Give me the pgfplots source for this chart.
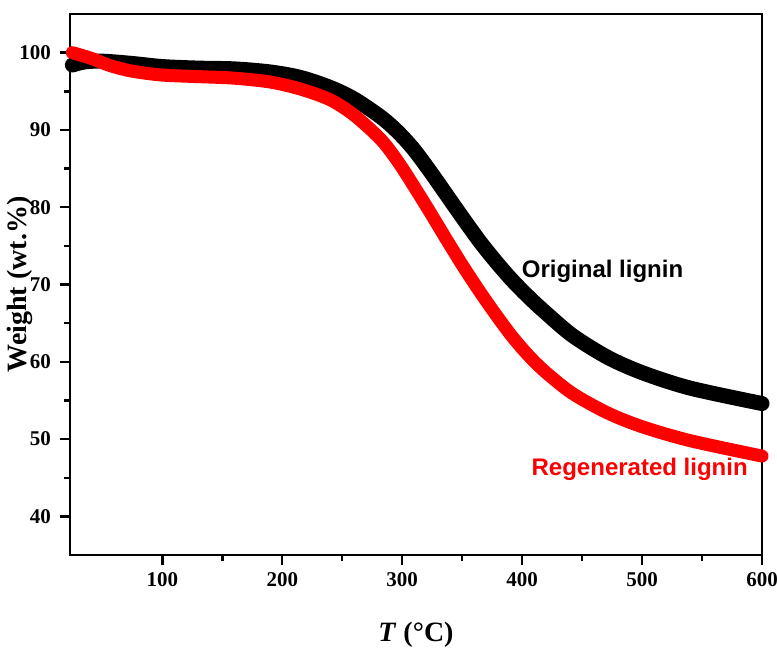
\documentclass[border=0pt]{standalone}
\usepackage{fontspec}
\setmainfont{Liberation Serif}
\newfontfamily\arialfont{Liberation Sans}
\usepackage{pgfplots}
\pgfplotsset{compat=1.18}

\begin{document}
\begin{tikzpicture}
\begin{axis}[
    scale only axis,
    width=346pt, height=270.5pt,
    xmin=23, xmax=600,
    ymin=35, ymax=105,
    xtick={100,200,300,400,500,600},
    ytick={40,50,60,70,80,90,100},
    minor x tick num=1,
    minor y tick num=1,
    axis line style={line width=1.2pt},
    tick style={line width=1.2pt, black},
    tick align=outside,
    tick pos=left,
    major tick length=5pt,
    minor tick length=3pt,
    /pgf/number format/assume math mode=true,
    ticklabel style={font=\fontsize{10.5}{12}\selectfont\bfseries},
    yticklabel style={xshift=-1pt},
    xlabel={\textbf{\textit{T} (°C)}},
    ylabel={\textbf{Weight (wt.\%)}},
    label style={font=\fontsize{14}{16}\selectfont},
    xlabel style={at={(axis description cs:0.5,0)}, anchor=center, yshift=-40pt},
    ylabel style={at={(axis description cs:0,0.5)}, anchor=center, yshift=25pt},
    clip=false,
]
% Original lignin
\addplot[black, line width=7.5pt, smooth, line cap=round] coordinates {
    (25,98.4) (35,98.8) (50,98.9) (75,98.6) (100,98.2) (130,98.0) (160,97.9)
    (190,97.5) (215,96.8) (240,95.5) (260,94.0) (282,91.7) (296,89.8)
    (309,87.6) (323,84.7) (337,81.6) (351,78.5) (365,75.5) (379,72.8)
    (392,70.5) (406,68.3) (420,66.3) (442,63.4) (471,60.6) (500,58.6)
    (540,56.6) (600,54.6)
};
% Regenerated lignin
\addplot[red, line width=6.5pt, smooth, line cap=round] coordinates {
    (25,100) (40,99.3) (57,98.3) (75,97.6) (100,97.1) (130,96.9) (160,96.7)
    (190,96.2) (215,95.3) (240,93.9) (260,91.9) (282,88.8) (296,86.0)
    (309,82.9) (323,79.4) (337,75.8) (351,72.3) (365,69.0) (379,65.9)
    (392,63.2) (406,60.7) (420,58.6) (442,55.9) (471,53.4) (500,51.6)
    (540,49.8) (600,47.8)
};
\node[font=\arialfont\fontsize{12}{14}\selectfont\bfseries, text=black] at (axis cs:467,71.7) {Original lignin};
\node[font=\arialfont\fontsize{12}{14}\selectfont\bfseries, text=red] at (axis cs:498,46.1) {Regenerated lignin};
\end{axis}
\pgfresetboundingbox
\path[use as bounding box] (-35pt,-49.5pt) rectangle (353.5pt,277.5pt);
\end{tikzpicture}
\end{document}
